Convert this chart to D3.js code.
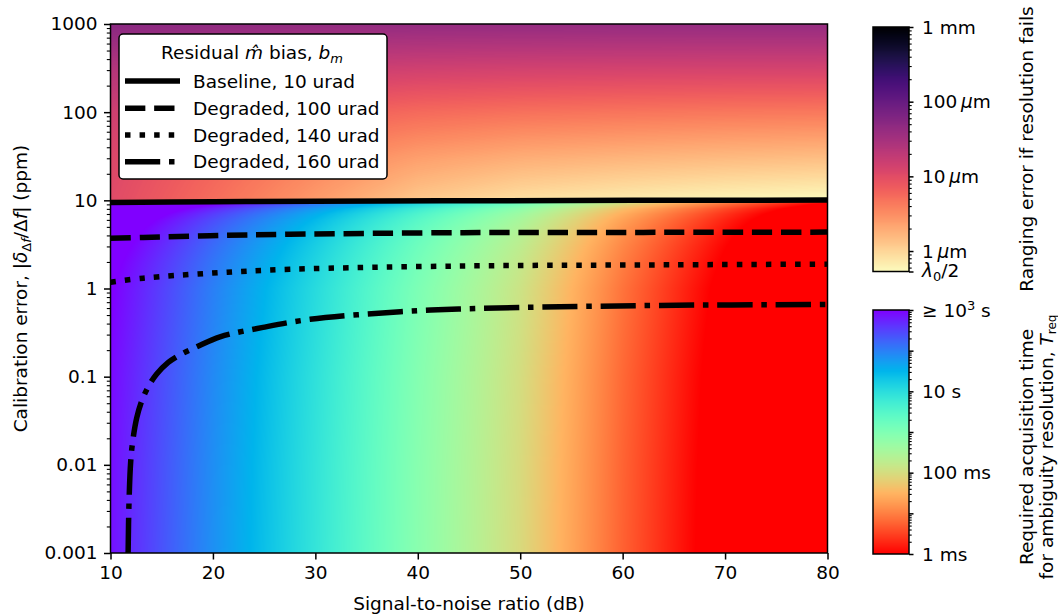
<!DOCTYPE html>
<html>
<head>
<meta charset="utf-8">
<script src="https://cdn.jsdelivr.net/npm/d3@7"></script>
<style>
  body { margin: 0; background: #fff; }
  text { font-family: "DejaVu Sans", sans-serif; font-size: 18.5px; fill: #000; }
</style>
</head>
<body>
<svg id="chart" width="1058" height="614"></svg>
<script>
// ---- data ----
const snrGrid = [10, 20, 30, 40, 50, 60, 70, 80];              // dB
// required acquisition time at small calibration error (s)
const treqSec = [760, 71, 7.6, 0.76, 0.089, 0.0056, 0.0005, 0.00005];
// extra time (decades) when calibration error eats the margin
const treqCal = [0.001, 0.01, 0.1, 0.3, 1, 2, 3, 4, 5, 6, 7, 8, 9, 9.5, 10.2];
const treqLift = [0, 0.02, 0.06, 0.1, 0.15, 0.24, 0.32, 0.4, 0.48, 0.57, 0.69, 0.86, 1.15, 1.4, 1.9];
// ranging error if resolution fails (um), rows = rangeCal, cols = snrGrid
const rangeCal = [10, 30, 100, 300, 1000];
const rangeErrUm = [
  [10.5, 5.3, 2.6, 1.25, 0.85, 0.7, 0.6, 0.54],
  [11.5, 6.4, 3.7, 2.4, 1.9, 1.7, 1.55, 1.45],
  [15, 9.8, 7.0, 5.6, 5.0, 4.7, 4.5, 4.4],
  [24, 18.5, 15.5, 14, 13.3, 13, 12.8, 12.7],
  [52, 47, 44.5, 43, 42.5, 42.2, 42, 41.9]
];
const lambdaHalfUm = 0.532;

// residual m-hat bias curves (SNR dB, calibration error ppm)
const baselineSnr = [10, 20, 30, 45, 62, 80];
const baselineCal = [9.44, 9.65, 9.78, 9.9, 10.0, 10.08];
const deg100Snr = [10, 13.2, 19.7, 27.5, 44.4, 62, 80];
const deg100Cal = [3.71, 3.8, 3.97, 4.12, 4.3, 4.33, 4.36];
const deg140Snr = [10, 13.2, 19.7, 27.5, 44.4, 62, 80];
const deg140Cal = [1.18, 1.31, 1.49, 1.65, 1.8, 1.85, 1.89];
const deg160Snr = [11.72, 11.8, 11.97, 12.17, 12.56, 13.05, 13.69, 14.51, 15.64, 16.79, 18.42, 20.69, 24.89, 29.48, 38.3, 44, 52, 63.6, 80];
const deg160Cal = [0.001, 0.0035, 0.0108, 0.0185, 0.034, 0.053, 0.077, 0.107, 0.145, 0.177, 0.218, 0.283, 0.362, 0.447, 0.545, 0.585, 0.615, 0.643, 0.66];

const legendLabels = ["Baseline, 10 urad", "Degraded, 100 urad", "Degraded, 140 urad", "Degraded, 160 urad"];
const xTicks = [10, 20, 30, 40, 50, 60, 70, 80];
const yTicks = [0.001, 0.01, 0.1, 1, 10, 100, 1000];
const yTickLabels = ["0.001", "0.01", "0.1", "1", "10", "100", "1000"];

// ---- layout ----
const svg = d3.select("#chart");
const pL = 110.5, pR = 827.5, pT = 24, pB = 553;
const x = d3.scaleLinear().domain([10, 80]).range([pL, pR]);
const y = d3.scaleLog().domain([0.001, 1000]).range([pB, pT]);

// colormaps
function rainbow(t) {
  const c = v => Math.max(0, Math.min(1, v));
  return [c(Math.abs(2 * t - 0.5)) * 255, c(Math.sin(Math.PI * t)) * 255, c(Math.cos(Math.PI * t / 2)) * 255];
}
const magmaLut = d3.range(256).map(i => { const c = d3.rgb(d3.interpolateMagma(i / 255)); return [c.r, c.g, c.b]; });
const magma = t => magmaLut[Math.round(Math.max(0, Math.min(1, t)) * 255)];

const clamp01 = v => Math.max(0, Math.min(1, v));
const timeColor = logT => rainbow(1 - clamp01((logT + 3) / 6));
const rangeSpan = 3 - Math.log10(lambdaHalfUm);
const rangeColor = logE => magma((3 - logE) / rangeSpan);

// interpolators
const baseLogT = d3.scaleLinear().domain(snrGrid).range(treqSec.map(Math.log10)).clamp(true);
const liftT = d3.scaleLog().domain(treqCal).range(treqLift).clamp(true);
const boundary = d3.scaleLinear().domain(baselineSnr).range(baselineCal).clamp(true);
const rowScales = rangeErrUm.map(row => d3.scaleLinear().domain(snrGrid).range(row.map(Math.log10)).clamp(true));

// ---- heat map ----
const cw = Math.round(pR - pL), ch = Math.round(pB - pT);
const canvas = document.createElement("canvas");
canvas.width = cw; canvas.height = ch;
const ctx = canvas.getContext("2d");
const img = ctx.createImageData(cw, ch);
for (let i = 0; i < cw; i++) {
  const snr = x.invert(pL + i + 0.5);
  const cb = boundary(snr);
  const bT = baseLogT(snr);
  const colE = d3.scaleLog().domain(rangeCal).range(rowScales.map(s => s(snr))).clamp(true);
  for (let j = 0; j < ch; j++) {
    const cal = y.invert(pT + j + 0.5);
    const col = cal >= cb ? rangeColor(colE(cal)) : timeColor(bT + liftT(cal));
    const k = (j * cw + i) * 4;
    img.data[k] = col[0]; img.data[k + 1] = col[1]; img.data[k + 2] = col[2]; img.data[k + 3] = 255;
  }
}
ctx.putImageData(img, 0, 0);
svg.append("image").attr("x", pL).attr("y", pT).attr("width", cw).attr("height", ch)
  .attr("preserveAspectRatio", "none").attr("href", canvas.toDataURL());

// ---- curves ----
svg.append("clipPath").attr("id", "clip").append("rect")
  .attr("x", pL).attr("y", pT).attr("width", pR - pL).attr("height", pB - pT);
const line = d3.line().x(d => x(d[0])).y(d => y(d[1])).curve(d3.curveCatmullRom);
const lw = 5.5;
const dashes = [null, [3.7 * lw, 1.6 * lw], [1 * lw, 1.65 * lw], [6.4 * lw, 1.6 * lw, 1 * lw, 1.6 * lw]];
const curves = [
  d3.zip(baselineSnr, baselineCal), d3.zip(deg100Snr, deg100Cal),
  d3.zip(deg140Snr, deg140Cal), d3.zip(deg160Snr, deg160Cal)
];
const gCurves = svg.append("g").attr("clip-path", "url(#clip)");
curves.forEach((pts, i) => {
  gCurves.append("path").attr("d", line(pts)).attr("fill", "none").attr("stroke", "#000")
    .attr("stroke-width", lw).attr("stroke-dasharray", dashes[i] ? dashes[i].join(",") : null);
});

// ---- axes ----
const gx = svg.append("g").attr("transform", `translate(0,${pB})`)
  .call(d3.axisBottom(x).tickValues(xTicks).tickFormat(d3.format("d")).tickSize(6.5).tickPadding(6.5).tickSizeOuter(0));
const yMinor = [];
for (let e = -3; e < 3; e++) for (let m = 2; m <= 9; m++) yMinor.push(m * Math.pow(10, e));
const gyMinor = svg.append("g").attr("transform", `translate(${pL},0)`)
  .call(d3.axisLeft(y).tickValues(yMinor).tickFormat("").tickSize(3.7).tickSizeOuter(0));
const gy = svg.append("g").attr("transform", `translate(${pL},0)`)
  .call(d3.axisLeft(y).tickValues(yTicks).tickFormat((d, i) => yTickLabels[i]).tickSize(6.5).tickPadding(6.5).tickSizeOuter(0));
[gx, gy, gyMinor].forEach(g => {
  g.select(".domain").remove();
  g.selectAll("line").attr("stroke", "#000").attr("stroke-width", 1.5);
  g.selectAll("text").attr("font-family", "DejaVu Sans").attr("font-size", 18.5).attr("fill", "#000");
});
gyMinor.selectAll("line").attr("stroke-width", 1.1);
svg.append("rect").attr("x", pL).attr("y", pT).attr("width", pR - pL).attr("height", pB - pT)
  .attr("fill", "none").attr("stroke", "#000").attr("stroke-width", 1.5);

svg.append("text").attr("x", (pL + pR) / 2).attr("y", 610).attr("text-anchor", "middle")
  .text("Signal-to-noise ratio (dB)");

const yl = svg.append("text").attr("transform", `translate(27,${(pT + pB) / 2}) rotate(-90)`).attr("text-anchor", "middle");
yl.append("tspan").text("Calibration error, |");
yl.append("tspan").attr("font-style", "italic").text("δ");
yl.append("tspan").attr("font-size", 13).attr("dy", 4).text("Δ");
yl.append("tspan").attr("font-size", 13).attr("font-style", "italic").text("f");
yl.append("tspan").attr("dy", -4).text("/Δ");
yl.append("tspan").attr("font-style", "italic").text("f");
yl.append("tspan").text("| (ppm)");

// ---- legend ----
const lg = svg.append("g");
lg.append("rect").attr("x", 119).attr("y", 34).attr("width", 268).attr("height", 145).attr("rx", 4)
  .attr("fill", "#fff").attr("stroke", "#000").attr("stroke-width", 1.5);
const lt = lg.append("text").attr("x", 252).attr("y", 59).attr("text-anchor", "middle");
lt.append("tspan").text("Residual ");
lt.append("tspan").attr("font-style", "italic").text("m\u0302");
lt.append("tspan").text(" bias, ");
lt.append("tspan").attr("font-style", "italic").text("b");
lt.append("tspan").attr("font-style", "italic").attr("font-size", 13).attr("dy", 4).text("m");
const rowY = [81, 108.3, 135, 161.7];
legendLabels.forEach((lab, i) => {
  lg.append("line").attr("x1", 125).attr("x2", 180).attr("y1", rowY[i]).attr("y2", rowY[i])
    .attr("stroke", "#000").attr("stroke-width", lw).attr("stroke-dasharray", dashes[i] ? dashes[i].join(",") : null);
  lg.append("text").attr("x", 193).attr("y", rowY[i] + 6.7).text(lab);
});

// ---- colorbars ----
const cbL = 873, cbR = 909;
function drawBar(y0, y1, colorAt) {
  const h = Math.round(y1 - y0);
  const c = document.createElement("canvas"); c.width = 1; c.height = h;
  const cx = c.getContext("2d"); const im = cx.createImageData(1, h);
  for (let j = 0; j < h; j++) {
    const col = colorAt((j + 0.5) / h);
    im.data[j * 4] = col[0]; im.data[j * 4 + 1] = col[1]; im.data[j * 4 + 2] = col[2]; im.data[j * 4 + 3] = 255;
  }
  cx.putImageData(im, 0, 0);
  svg.append("image").attr("x", cbL).attr("y", y0).attr("width", cbR - cbL).attr("height", y1 - y0)
    .attr("preserveAspectRatio", "none").attr("href", c.toDataURL());
  svg.append("rect").attr("x", cbL).attr("y", y0).attr("width", cbR - cbL).attr("height", y1 - y0)
    .attr("fill", "none").attr("stroke", "#000").attr("stroke-width", 1.5);
}
function barTicks(scale, values, len) {
  const g = svg.append("g").attr("transform", `translate(${cbR},0)`)
    .call(d3.axisRight(scale).tickValues(values).tickFormat("").tickSize(len).tickSizeOuter(0));
  g.select(".domain").remove();
  g.selectAll("line").attr("stroke", "#000").attr("stroke-width", len > 4 ? 1.5 : 1.1);
}
function barLabel(yy, parts) {
  const t = svg.append("text").attr("x", 922).attr("y", yy + 6.7);
  parts.forEach(p => {
    const s = t.append("tspan").text(p.t);
    if (p.it) s.attr("font-style", "italic");
    if (p.fs) s.attr("font-size", p.fs);
    if (p.dy) s.attr("dy", p.dy);
  });
}

// ranging error bar
const cbRange = d3.scaleLog().domain([lambdaHalfUm, 1000]).range([271.5, 27]);
drawBar(27, 271.5, f => rangeColor(Math.log10(cbRange.invert(27 + f * (271.5 - 27)))));
const rMinor = [0.6, 0.7, 0.8, 0.9];
for (let e = 0; e < 3; e++) for (let m = 2; m <= 9; m++) rMinor.push(m * Math.pow(10, e));
barTicks(cbRange, rMinor, 2.7);
barTicks(cbRange, [lambdaHalfUm, 1, 10, 100, 1000], 4.5);
barLabel(cbRange(1000), [{t: "1 mm"}]);
barLabel(cbRange(100), [{t: "100\u2009"}, {t: "μ", it: true}, {t: "m"}]);
barLabel(cbRange(10), [{t: "10\u2009"}, {t: "μ", it: true}, {t: "m"}]);
barLabel(cbRange(1), [{t: "1\u2009"}, {t: "μ", it: true}, {t: "m"}]);
barLabel(cbRange(lambdaHalfUm) - 1.5, [{t: "λ", it: true}, {t: "0", fs: 13, dy: 4}, {t: "/2", dy: -4}]);
svg.append("text").attr("transform", "translate(1033,149) rotate(-90)").attr("text-anchor", "middle")
  .text("Ranging error if resolution fails");

// acquisition time bar
const cbTime = d3.scaleLog().domain([1e-3, 1e3]).range([554, 310]);
drawBar(310, 554, f => timeColor(Math.log10(cbTime.invert(310 + f * (554 - 310)))));
const tMinor = [];
for (let e = -3; e < 3; e++) for (let m = 2; m <= 9; m++) tMinor.push(m * Math.pow(10, e));
barTicks(cbTime, tMinor, 2.7);
barTicks(cbTime, [1e-3, 1e-2, 1e-1, 1, 10, 100, 1000], 4.5);
barLabel(cbTime(1000), [{t: "≥ 10"}, {t: "3", fs: 13, dy: -7}, {t: " s", dy: 7}]);
barLabel(cbTime(10), [{t: "10 s"}]);
barLabel(cbTime(0.1), [{t: "100 ms"}]);
barLabel(cbTime(0.001), [{t: "1 ms"}]);
const tl = svg.append("text").attr("transform", "translate(1033,447) rotate(-90)").attr("text-anchor", "middle");
tl.append("tspan").text("Required acquisition time");
const tl2 = svg.append("text").attr("transform", "translate(1053,447) rotate(-90)").attr("text-anchor", "middle");
tl2.append("tspan").text("for ambiguity resolution, ");
tl2.append("tspan").attr("font-style", "italic").text("T");
tl2.append("tspan").attr("font-size", 12).attr("dy", 3).text("req");
</script>
</body>
</html>
